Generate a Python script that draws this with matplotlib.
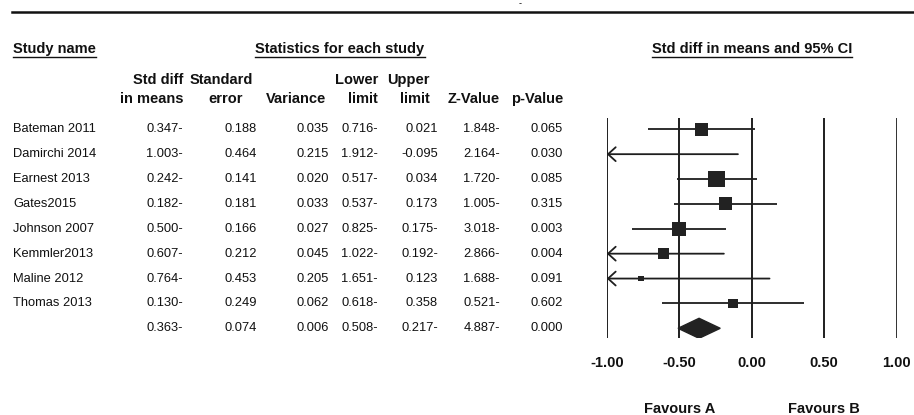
import matplotlib
matplotlib.use("Agg")
import matplotlib.pyplot as plt
import matplotlib.transforms as mtransforms
from matplotlib.patches import Polygon
import numpy as np

# ---- data -------------------------------------------------------------
studies = ["Bateman 2011", "Damirchi 2014", "Earnest 2013", "Gates2015",
           "Johnson 2007", "Kemmler2013", "Maline 2012", "Thomas 2013", ""]
std_diff = [-0.347, -1.003, -0.242, -0.182, -0.500, -0.607, -0.764, -0.130, -0.363]
std_err = [0.188, 0.464, 0.141, 0.181, 0.166, 0.212, 0.453, 0.249, 0.074]
variance = [0.035, 0.215, 0.020, 0.033, 0.027, 0.045, 0.205, 0.062, 0.006]
lower = [-0.716, -1.912, -0.517, -0.537, -0.825, -1.022, -1.651, -0.618, -0.508]
upper = [0.021, -0.095, 0.034, 0.173, -0.175, -0.192, 0.123, 0.358, -0.217]
z_value = [-1.848, -2.164, -1.720, -1.005, -3.018, -2.866, -1.688, -0.521, -4.887]
p_value = [0.065, 0.030, 0.085, 0.315, 0.003, 0.004, 0.091, 0.602, 0.000]
x_ticks = [-1.00, -0.50, 0.00, 0.50, 1.00]
favours = ["Favours A", "Favours B"]
favours_at = [-0.5, 0.5]

n_studies = 8  # last row is the pooled estimate


def rtl(v):
    """Number as printed in the table: minus sign trailing."""
    return f"{abs(v):.3f}-" if v < 0 else f"{v:.3f}"


# label exceptions printed with a leading minus
upper_labels = [rtl(v) for v in upper]
upper_labels[1] = f"{upper[1]:.3f}"

# ---- figure -----------------------------------------------------------
W, H = 914, 415
fig = plt.figure(figsize=(W / 100, H / 100), dpi=100, facecolor="white")

# pixel-space overlay for the table and rules
base = fig.add_axes([0, 0, 1, 1])
base.set_xlim(0, W)
base.set_ylim(H, 0)
base.axis("off")

# forest plot axes
x_left, x_right = 606.7, 896.7
y_top, y_bot = 118.0, 338.3
row0, row_step = 129.3, 24.875
ax = fig.add_axes([x_left / W, 1 - y_bot / H, (x_right - x_left) / W, (y_bot - y_top) / H])
ax.set_xlim(-1, 1)
ax.set_ylim((y_bot - row0) / row_step, (y_top - row0) / row_step)
ax.patch.set_alpha(0)
for s in ax.spines.values():
    s.set_visible(False)
ax.set_yticks([])

INK = "#1e1e1e"
HEAD = dict(family=["Liberation Sans", "DejaVu Sans"], weight="bold", fontsize=10.5, color="#111111")
BODY = dict(family=["Liberation Sans", "DejaVu Sans"], fontsize=9.3, color="#111111")

ax.set_xticks(x_ticks)
ax.set_xticklabels([f"{t:.2f}" for t in x_ticks], **HEAD)
ax.tick_params(axis="x", length=0, pad=12.7)

# reference lines
for t in x_ticks:
    ax.axvline(t, color=INK, lw=1.4 if t < 1 else 2.0, zorder=1)

rows = np.arange(len(studies))

# confidence intervals
for i in range(n_studies):
    lo = max(lower[i], -1.0)
    hi = min(upper[i], 1.0)
    if lower[i] < -1.0:
        ax.annotate("", xy=(lo, rows[i]), xytext=(hi, rows[i]),
                    arrowprops=dict(arrowstyle="->,head_length=0.55,head_width=0.5",
                                    color=INK, lw=1.3, shrinkA=0, shrinkB=0,
                                    mutation_scale=10), zorder=2)
    else:
        ax.plot([lo, hi], [rows[i], rows[i]], color=INK, lw=1.3, zorder=2, solid_capstyle="butt")

# study squares, area proportional to inverse variance
est = np.array(std_diff[:n_studies])
w = 1.0 / np.array(variance[:n_studies])
side_pt = 2.36 * np.sqrt(w) * 72 / 100
inside = (est >= -1) & (est <= 1)
ax.scatter(est[inside], rows[:n_studies][inside], s=side_pt[inside] ** 2, marker="s",
           color="#222222", edgecolors="none", zorder=3)

# pooled diamond
k = n_studies
half_h = 10.0 / row_step
ax.add_patch(Polygon([(lower[k], k), (std_diff[k], k - half_h), (upper[k], k),
                      (std_diff[k], k + half_h)], closed=True, color="#222222", zorder=3))

# favours labels
fav_tr = mtransforms.blended_transform_factory(ax.transData, base.transData)
for lab, xv in zip(favours, favours_at):
    ax.text(xv, 409, lab, transform=fav_tr, ha="center", va="center", **HEAD)

# ---- table ------------------------------------------------------------
row_tr = mtransforms.blended_transform_factory(base.transData, ax.transData)

cols = [
    (183, [rtl(v) for v in std_diff]),
    (257, [f"{v:.3f}" for v in std_err]),
    (329, [f"{v:.3f}" for v in variance]),
    (378, [rtl(v) for v in lower]),
    (438, upper_labels),
    (500, [rtl(v) for v in z_value]),
    (563, [f"{v:.3f}" for v in p_value]),
]
for i, name in enumerate(studies):
    if name:
        base.text(13, rows[i], name, transform=row_tr, ha="left", va="center", **BODY)
    for xr, labels in cols:
        base.text(xr, rows[i], labels[i], transform=row_tr, ha="right", va="center", **BODY)

# column headers
hdr = [
    (183, 80, "Std diff", "right"), (183, 99, "in means", "right"),
    (221, 80, "Standard", "center"), (226, 99, "error", "center"),
    (296, 99, "Variance", "center"),
    (378, 80, "Lower", "right"), (378, 99, "limit", "right"),
    (430, 80, "Upper", "right"), (430, 99, "limit", "right"),
    (474, 99, "Z-Value", "center"), (563, 99, "p-Value", "right"),
]
for x, y, s, ha in hdr:
    base.text(x, y, s, ha=ha, va="center", **HEAD)

# section titles with underlines
titles = [(13, "Study name", "left"), (340, "Statistics for each study", "center"),
          (752, "Std diff in means and 95% CI", "center")]
title_objs = [base.text(x, 49, s, ha=ha, va="center", **HEAD) for x, s, ha in titles]
fig.canvas.draw()
inv = base.transData.inverted()
for t in title_objs:
    bb = t.get_window_extent()
    (x0, _), (x1, _) = inv.transform([(bb.x0, bb.y0), (bb.x1, bb.y0)])
    base.plot([x0, x1], [57, 57], color="#111111", lw=1.0)

# top rule
base.plot([12, W], [12, 12], color="#111111", lw=1.8)
base.text(520, 4, "-", ha="center", va="center", fontsize=6, color="#111111")

fig.savefig("out.png", dpi=100, facecolor="white")
